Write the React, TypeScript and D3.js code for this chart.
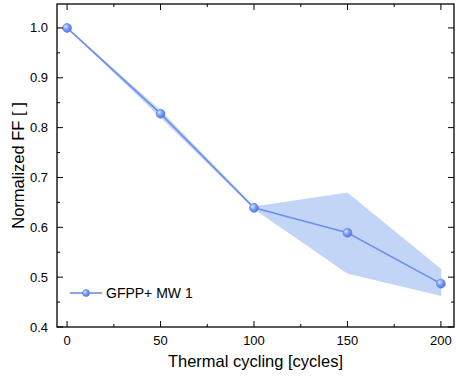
import React from "react";
import * as d3 from "d3";

// Data
const cycles = [0, 50, 100, 150, 200];
const ffMean = [1.0, 0.828, 0.639, 0.589, 0.487];
const ffUpper = [1.0, 0.834, 0.641, 0.669, 0.516];
const ffLower = [1.0, 0.821, 0.637, 0.508, 0.463];
const xTicks = [0, 50, 100, 150, 200];
const yTicks = [0.4, 0.5, 0.6, 0.7, 0.8, 0.9, 1.0];
const seriesName = "GFPP+ MW 1";

const W = 456;
const H = 379;
const margin = { left: 57, top: 4, right: 2, bottom: 52 };

const App = () => {
  const x = d3.scaleLinear().domain([-5.4, 207]).range([margin.left, W - margin.right]);
  const y = d3.scaleLinear().domain([0.4, 1.048]).range([H - margin.bottom, margin.top]);

  const pts = cycles.map((c, i) => ({ c, m: ffMean[i], u: ffUpper[i], l: ffLower[i] }));

  const band = d3.area<any>()
    .x(d => x(d.c))
    .y0(d => y(d.l))
    .y1(d => y(d.u))(pts);

  const line = d3.line<any>()
    .x(d => x(d.c))
    .y(d => y(d.m))(pts);

  const x0 = margin.left, x1 = W - margin.right;
  const y0 = H - margin.bottom, y1 = margin.top;
  const minorX = d3.range(25, 200, 50);
  const minorY = d3.range(0.45, 1.0, 0.1);
  const lineColor = "#6b8ff0";
  const font = "'Liberation Sans', Arial, sans-serif";

  const marker = (cx: number, cy: number, key: any, r = 4.5) => (
    <circle key={key} cx={cx} cy={cy} r={r} fill="url(#ball)" stroke="#5a7fe6" strokeWidth={0.6} />
  );

  return (
    <svg width={W} height={H} style={{ position: "absolute", left: 0, top: 0, background: "#fff" }}>
      <defs>
        <radialGradient id="ball" cx="0.35" cy="0.35" r="0.7">
          <stop offset="0%" stopColor="#dfe8ff" />
          <stop offset="45%" stopColor="#7d9ff5" />
          <stop offset="100%" stopColor="#4c73e0" />
        </radialGradient>
      </defs>

      <path d={band ?? ""} fill="#c3d5f7" stroke="#b0c6f3" strokeWidth={0.5} />
      <path d={line ?? ""} fill="none" stroke={lineColor} strokeWidth={1.6} />
      {pts.map((d, i) => marker(x(d.c), y(d.m), i))}

      {/* frame */}
      <rect x={x0} y={y1} width={x1 - x0} height={y0 - y1} fill="none" stroke="#000" strokeWidth={1.3} />

      {/* x ticks, bottom and top, inward */}
      {xTicks.map(t => (
        <g key={"xt" + t}>
          <line x1={x(t)} x2={x(t)} y1={y0} y2={y0 - 6} stroke="#000" strokeWidth={1} />
          <line x1={x(t)} x2={x(t)} y1={y1} y2={y1 + 6} stroke="#000" strokeWidth={1} />
          <text x={x(t)} y={y0 + 18} textAnchor="middle" fontSize={13} fontFamily={font}>{t}</text>
        </g>
      ))}
      {minorX.map(t => (
        <g key={"xm" + t}>
          <line x1={x(t)} x2={x(t)} y1={y0} y2={y0 - 3} stroke="#000" strokeWidth={1} />
          <line x1={x(t)} x2={x(t)} y1={y1} y2={y1 + 3} stroke="#000" strokeWidth={1} />
        </g>
      ))}

      {/* y ticks, left and right, inward */}
      {yTicks.map(t => (
        <g key={"yt" + t}>
          <line x1={x0} x2={x0 + 6} y1={y(t)} y2={y(t)} stroke="#000" strokeWidth={1} />
          <line x1={x1} x2={x1 - 6} y1={y(t)} y2={y(t)} stroke="#000" strokeWidth={1} />
          <text x={x0 - 9} y={y(t) + 4.5} textAnchor="end" fontSize={13} fontFamily={font}>{t.toFixed(1)}</text>
        </g>
      ))}
      {minorY.map(t => (
        <g key={"ym" + t}>
          <line x1={x0} x2={x0 + 3} y1={y(t)} y2={y(t)} stroke="#000" strokeWidth={1} />
          <line x1={x1} x2={x1 - 3} y1={y(t)} y2={y(t)} stroke="#000" strokeWidth={1} />
        </g>
      ))}

      {/* axis titles */}
      <text x={(x0 + x1) / 2} y={367} textAnchor="middle" fontSize={16.5} fontFamily={font}>
        Thermal cycling [cycles]
      </text>
      <text transform={`translate(24,${(y0 + y1) / 2}) rotate(-90)`} textAnchor="middle" fontSize={16.5} fontFamily={font}>
        Normalized FF [ ]
      </text>

      {/* legend */}
      <line x1={70} x2={102} y1={293} y2={293} stroke={lineColor} strokeWidth={1.6} />
      {marker(86, 293, "leg", 3.5)}
      <text x={106} y={297.5} fontSize={14} fontFamily={font}>{seriesName}</text>
    </svg>
  );
};

export default App;
